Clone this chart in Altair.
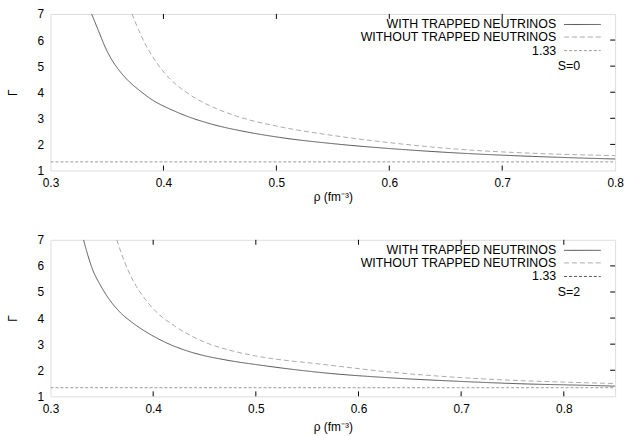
import altair as alt
import pandas as pd

# ---------------- data ----------------
series_names = ["WITH TRAPPED NEUTRINOS", "WITHOUT TRAPPED NEUTRINOS", "1.33"]
ref_level = 1.33

# Panel S=0
s0_with_rho = [0.3364, 0.3428, 0.3487, 0.3546, 0.3604, 0.3691, 0.3779, 0.3896, 0.4086, 0.4202, 0.4442, 0.4734, 0.5026, 0.552, 0.610, 0.669, 0.727, 0.800]
s0_with_gam = [7.0, 6.32, 5.70, 5.22, 4.86, 4.43, 4.10, 3.72, 3.30, 3.09, 2.76, 2.48, 2.27, 2.02, 1.81, 1.65, 1.54, 1.44]
s0_wo_rho = [0.3721, 0.3779, 0.3838, 0.3896, 0.3984, 0.4072, 0.4189, 0.4295, 0.4442, 0.4588, 0.4734, 0.5026, 0.552, 0.610, 0.669, 0.727, 0.800]
s0_wo_gam = [7.0, 6.40, 5.86, 5.42, 4.87, 4.45, 4.04, 3.74, 3.42, 3.17, 2.97, 2.68, 2.33, 2.02, 1.79, 1.66, 1.57]

# Panel S=2
s2_with_rho = [0.3322, 0.3341, 0.3406, 0.3486, 0.3566, 0.3678, 0.3806, 0.4014, 0.4163, 0.4324, 0.4484, 0.4644, 0.4804, 0.4997, 0.5665, 0.6306, 0.6947, 0.7588, 0.8229, 0.850]
s2_with_gam = [7.0, 6.72, 5.90, 5.26, 4.75, 4.22, 3.80, 3.28, 2.99, 2.75, 2.57, 2.44, 2.33, 2.22, 1.90, 1.71, 1.58, 1.48, 1.42, 1.39]
s2_wo_rho = [0.3646, 0.3694, 0.3758, 0.3838, 0.3935, 0.4046, 0.4207, 0.442, 0.458, 0.4804, 0.4997, 0.5665, 0.6306, 0.6947, 0.7588, 0.8229, 0.850]
s2_wo_gam = [7.0, 6.44, 5.81, 5.20, 4.66, 4.18, 3.70, 3.22, 2.96, 2.71, 2.55, 2.22, 1.93, 1.73, 1.60, 1.52, 1.49]

x_ticks = [0.3, 0.4, 0.5, 0.6, 0.7, 0.8]
y_ticks = [1, 2, 3, 4, 5, 6, 7]

FONT = "Liberation Sans"
colors = ["#555555", "#aaaaaa", "#8a8a8a"]
dashes = [[1, 0], [5, 3], [3, 2]]
W, H = 570, 158


def panel(with_rho, with_gam, wo_rho, wo_gam, xmax, s_label, ref_color, xtitle_pad):
    rows = []
    for r, g in zip(with_rho, with_gam):
        rows.append({"rho": r, "gamma": g, "series": series_names[0]})
    for r, g in zip(wo_rho, wo_gam):
        rows.append({"rho": r, "gamma": g, "series": series_names[1]})
    for r in [0.3, xmax]:
        rows.append({"rho": r, "gamma": ref_level, "series": series_names[2]})
    df = pd.DataFrame(rows)

    pal = [colors[0], colors[1], ref_color]
    xscale = alt.Scale(domain=[0.3, xmax], nice=False, zero=False)
    yscale = alt.Scale(domain=[1, 7], nice=False, zero=False)
    xaxis = alt.Axis(values=x_ticks, format=".1f", title="ρ (fm⁻³)", grid=False,
                     ticks=False, tickSize=0, domain=False, labelFontSize=12,
                     labelPadding=7, titleFontSize=12, titleFontWeight="normal",
                     titlePadding=xtitle_pad, labelColor="black", titleColor="black",
                     labelFont=FONT, titleFont=FONT, labelFlush=False,
                     labelOverlap=False)
    yaxis = alt.Axis(values=y_ticks, format="d", title="Γ", grid=False,
                     ticks=False, tickSize=0, domain=False, labelFontSize=12,
                     labelPadding=7, titleFontSize=12, titleFontWeight="normal",
                     titlePadding=18, labelColor="black", titleColor="black",
                     labelFont=FONT, titleFont=FONT, labelFlush=False,
                     labelOverlap=False)
    X = lambda: alt.X("rho:Q", scale=xscale, axis=xaxis)
    Y = lambda: alt.Y("gamma:Q", scale=yscale, axis=yaxis)

    lines = alt.Chart(df).mark_line(strokeWidth=1, interpolate="monotone", clip=True).encode(
        x=X(), y=Y(),
        color=alt.Color("series:N", scale=alt.Scale(domain=series_names, range=pal), legend=None),
        strokeDash=alt.StrokeDash("series:N", scale=alt.Scale(domain=series_names, range=dashes), legend=None),
    )

    inner_x = [t for t in x_ticks if 0.3 < t < xmax]
    xt = pd.DataFrame({"rho": inner_x})
    top_ticks = alt.Chart(xt).mark_rule(color="black", strokeWidth=1).encode(
        x=X(), y=alt.value(0), y2=alt.value(5))
    bot_ticks = alt.Chart(xt).mark_rule(color="black", strokeWidth=1).encode(
        x=X(), y=alt.value(H - 5), y2=alt.value(H))
    yt = pd.DataFrame({"gamma": [t for t in y_ticks if 1 < t < 7]})
    right_ticks = alt.Chart(yt).mark_rule(color="black", strokeWidth=1).encode(
        y=Y(), x=alt.value(W - 5), x2=alt.value(W))

    layers = [lines, top_ticks, bot_ticks, right_ticks]

    legend_y = [10.6, 23.3, 37.0]
    for name, yy, c, d in zip(series_names, legend_y, pal, dashes):
        layers.append(
            alt.Chart(pd.DataFrame({"t": [name]})).mark_text(
                align="right", baseline="middle", fontSize=12.5, font=FONT, color="black"
            ).encode(text="t:N", x=alt.value(510.5), y=alt.value(yy))
        )
        layers.append(
            alt.Chart(pd.DataFrame({"t": [name]})).mark_rule(
                color=c, strokeWidth=1, strokeDash=d
            ).encode(x=alt.value(518.5), x2=alt.value(555.5), y=alt.value(yy))
        )
    layers.append(
        alt.Chart(pd.DataFrame({"t": [s_label]})).mark_text(
            align="left", baseline="middle", fontSize=12.5, font=FONT, color="black"
        ).encode(text="t:N", x=alt.value(512), y=alt.value(52.8))
    )
    return alt.layer(*layers).properties(width=W, height=H)


top = panel(s0_with_rho, s0_with_gam, s0_wo_rho, s0_wo_gam, 0.8, "S=0", "#9a9a9a", 3)
bottom = panel(s2_with_rho, s2_with_gam, s2_wo_rho, s2_wo_gam, 0.85, "S=2", "#555555", 8)

chart = alt.vconcat(top, bottom, spacing=30).properties(
    padding={"left": 5, "top": 5, "right": 5, "bottom": 5}
).configure_view(stroke="black", strokeWidth=1).configure(background="white")

chart.save("out.html", embed_options={"renderer": "svg", "actions": False})
